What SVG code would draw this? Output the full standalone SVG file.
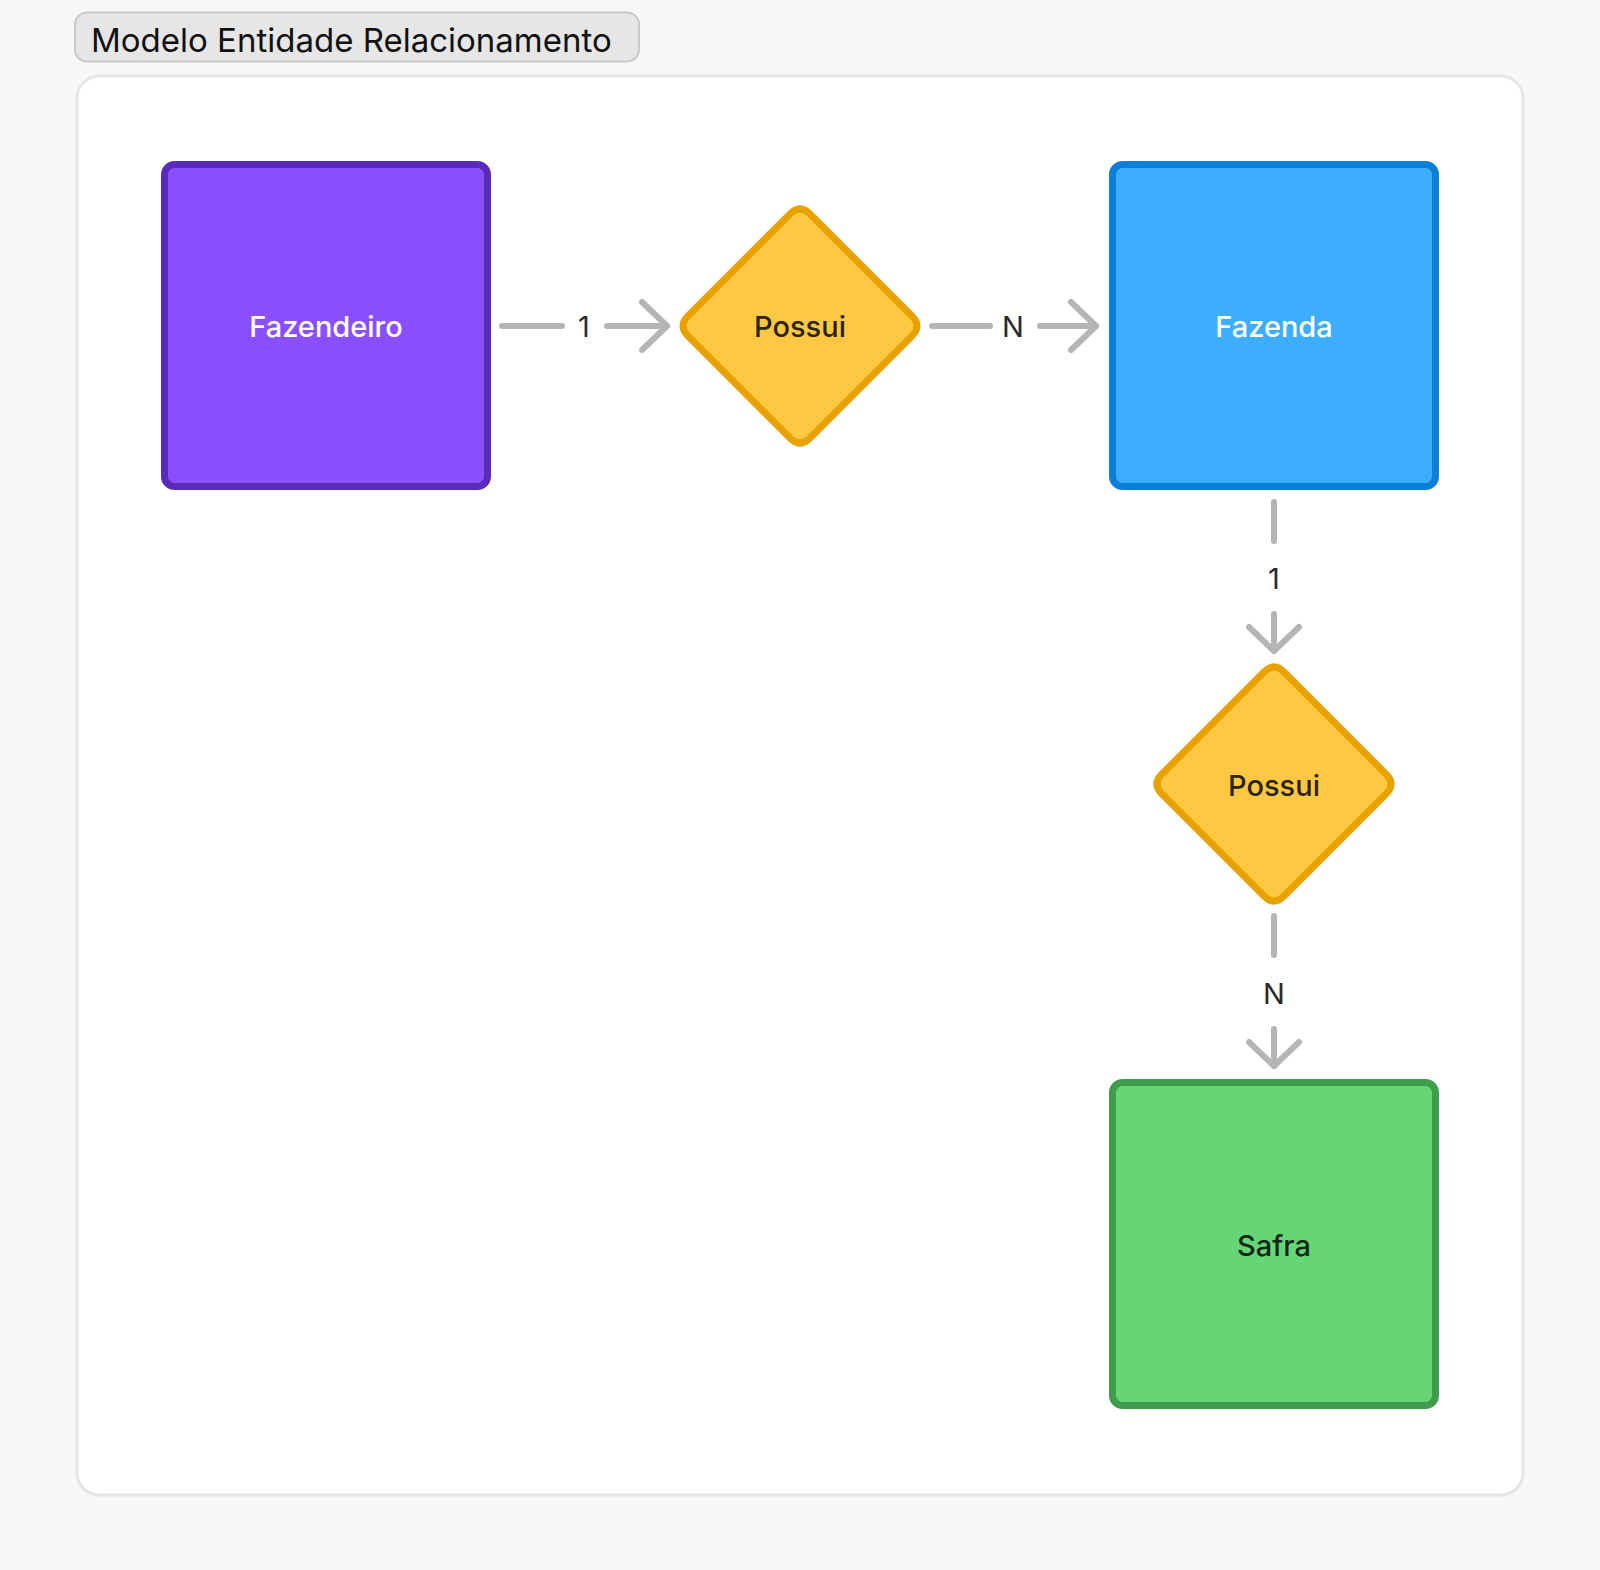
<svg xmlns="http://www.w3.org/2000/svg" width="1600" height="1570" viewBox="0 0 1600 1570">
<style>
.lbl{font-family:Inter,"Noto Sans","Liberation Sans",sans-serif;font-size:29px;font-weight:500;text-anchor:middle;dominant-baseline:central}
.elbl{font-family:Inter,"Noto Sans","Liberation Sans",sans-serif;font-size:29px;font-weight:400;text-anchor:middle;dominant-baseline:central;fill:#2a2a2a}
.edge{stroke:#b5b5b5;stroke-width:6;stroke-linecap:round;stroke-linejoin:round;fill:none}
.ent{stroke-width:7}
.rel{fill:#ffc843;stroke:#e8a200;stroke-width:7;stroke-linejoin:round}
</style>
<rect x="0" y="0" width="1600" height="1570" fill="#f7f7f7"/>
<g id="title">
<rect x="75" y="12.5" width="564" height="49" rx="12" fill="#e6e6e6" stroke="#c9c9c9" stroke-width="2"/>
<text x="91" y="40" font-family="Inter,'Noto Sans','Liberation Sans',sans-serif" font-size="33" fill="#111" dominant-baseline="central">Modelo Entidade Relacionamento</text>
</g>
<rect id="panel" x="77" y="76" width="1446" height="1419" rx="22" fill="#ffffff" stroke="#e5e5e5" stroke-width="3"/>
<g id="connectors">
<line class="edge" x1="502" y1="326" x2="562" y2="326"/>
<text class="elbl" x="584" y="326">1</text>
<line class="edge" x1="607" y1="326" x2="667" y2="326"/>
<polyline class="edge" points="642,302 667,326 642,350"/>
<line class="edge" x1="932" y1="326" x2="990" y2="326"/>
<text class="elbl" x="1013" y="326">N</text>
<line class="edge" x1="1040" y1="326" x2="1096" y2="326"/>
<polyline class="edge" points="1071,302 1096,326 1071,350"/>
<line class="edge" x1="1274" y1="502" x2="1274" y2="541"/>
<text class="elbl" x="1274" y="578">1</text>
<line class="edge" x1="1274" y1="614" x2="1274" y2="651"/>
<polyline class="edge" points="1249,627 1274,651 1299,627"/>
<line class="edge" x1="1274" y1="916" x2="1274" y2="955"/>
<text class="elbl" x="1274" y="993">N</text>
<line class="edge" x1="1274" y1="1029" x2="1274" y2="1066"/>
<polyline class="edge" points="1249,1042 1274,1066 1299,1042"/>
</g>
<g id="fazendeiro">
<rect class="ent" x="164.5" y="164.5" width="323" height="322" rx="10" fill="#8a50ff" stroke="#5a2ab8"/>
<text class="lbl" x="326" y="326" fill="#ffffff">Fazendeiro</text>
</g>
<g id="possui1">
<path class="rel" d="M790,214 Q800,204 810,214 L912,316 Q922,326 912,336 L810,438 Q800,448 790,438 L688,336 Q678,326 688,316 Z"/>
<text class="lbl" x="800" y="326" fill="#2b2416">Possui</text>
</g>
<g id="fazenda">
<rect class="ent" x="1112.5" y="164.5" width="323" height="322" rx="10" fill="#3dadff" stroke="#0a7fd8"/>
<text class="lbl" x="1274" y="326" fill="#ffffff">Fazenda</text>
</g>
<g id="possui2">
<path class="rel" d="M1264,672 Q1274,662 1284,672 L1386,774 Q1396,784 1386,794 L1284,896 Q1274,906 1264,896 L1162,794 Q1152,784 1162,774 Z"/>
<text class="lbl" x="1274" y="785" fill="#2b2416">Possui</text>
</g>
<g id="safra">
<rect class="ent" x="1112.5" y="1082.5" width="323" height="323" rx="10" fill="#66d575" stroke="#3f9c4c"/>
<text class="lbl" x="1274" y="1245" fill="#15261a">Safra</text>
</g>
</svg>
